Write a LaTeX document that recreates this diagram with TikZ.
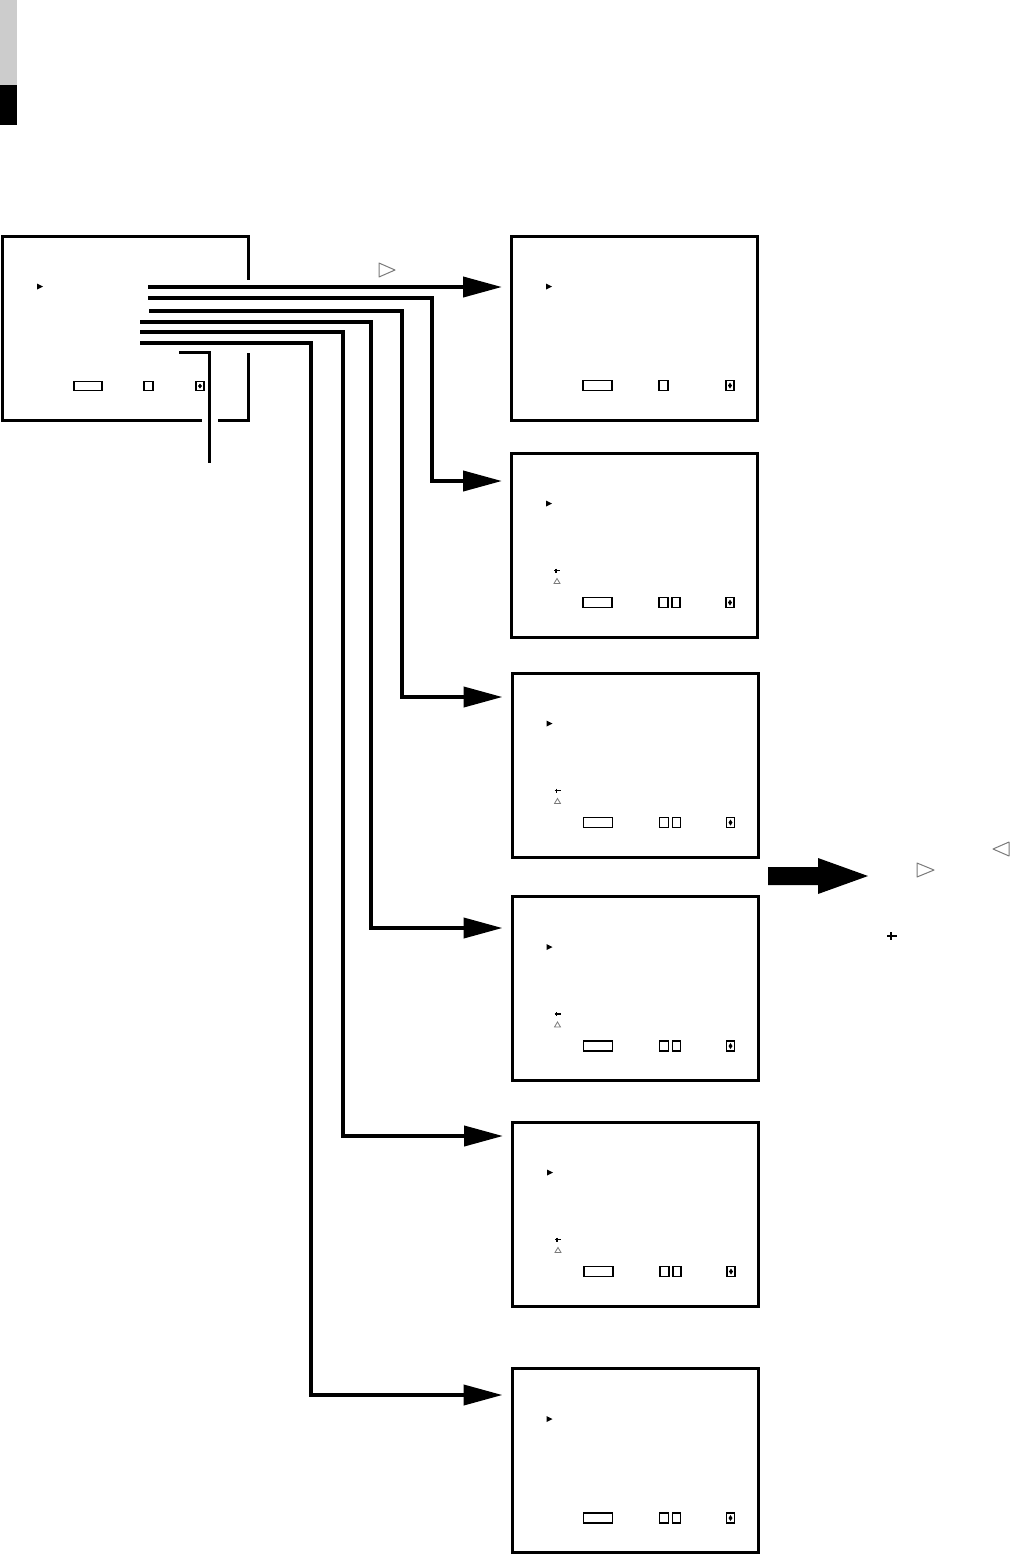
\documentclass[tikz,border=0pt]{standalone}
\usepackage{tikz}
\usetikzlibrary{arrows.meta,positioning,calc}
\definecolor{tabgray}{HTML}{CCCCCC}
\definecolor{symgray}{HTML}{7A7A7A}

\begin{document}
\begin{tikzpicture}[x=0.5pt,y=-0.5pt,
  screen/.style={draw, line width=1.5pt, minimum width=123pt, minimum height=92pt, inner sep=0pt},
  link/.style={line width=2pt, -{Triangle[length=19.5pt,width=10pt]}, shorten >=4pt},
  icon/.style={line width=0.6pt},
  btn/.style={draw=symgray, line width=0.5pt, line join=round}]
  \useasboundingbox (0,0) rectangle (1010,1555);

  % page tab
  \fill[tabgray] (0,0) rectangle (17,85);
  \fill[black] (0,85) rectangle (17,125);

  % screens
  \node[screen, draw=none, outer sep=0pt] (main) at (125.5,328) {};
  \node[screen] (scr1) at (634.5,328) {};
  \node[screen] (scr2) at (634.5,545) {};
  \node[screen] (scr3) at (635,765) {};
  \node[screen] (scr4) at (635,988.5) {};
  \node[screen] (scr5) at (635.5,1214) {};
  \node[screen] (scr6) at (635,1460.5) {};

  % main frame, open where the lines leave it
  \draw[line width=1.5pt] ($(main.north east)+(0,43.5)$) -- (main.north east) -- (main.north west)
    -- (main.south west) -- ($(main.south west)+(199.5,0)$);
  \draw[line width=1.5pt] ($(main.south east)+(-30.5,0)$) -- (main.south east) -- ($(main.south east)+(0,-67.5)$);

  % main screen items
  \begin{scope}[shift={(main.north west)}]
    \fill (34.5,47.5) -- (40.5,50.5) -- (34.5,53.5) -- cycle;
    \draw[icon] (71.5,145.5) rectangle (99.5,154.5);
    \draw[icon] (141.5,145.5) rectangle (150.5,154.5);
    \draw[icon] (193.5,145.5) rectangle (201.5,154.5);
    \fill (197.5,147.5) -- (199.5,150) -- (197.5,152.5) -- (195.5,150) -- cycle;
  \end{scope}

  % sub screen items
  \foreach \s/\nsq/\tack in {scr1/1/0,scr2/2/1,scr3/2/1,scr4/2/1,scr5/2/1,scr6/2/0}{
    \begin{scope}[shift={(\s.north west)}]
      \fill (36,49) -- (42,52) -- (36,55) -- cycle;
      \draw[icon] (73,146) rectangle (102,156);
      \draw[icon] (149,146) rectangle (158,156);
      \ifnum\nsq=2 \draw[icon] (162,146) rectangle (170,156); \fi
      \draw[icon] (216,146) rectangle (224,156);
      \fill (220,148) -- (222,151) -- (220,154) -- (218,151) -- cycle;
      \ifnum\tack=1
        \draw[line width=0.6pt] (44,119) -- (50,119) (46,117) -- (46,121);
        \draw[symgray, line width=0.4pt] (47,127) -- (50,132) -- (44,132) -- cycle;
      \fi
    \end{scope}
  }

  % line starts and bends
  \coordinate (s1) at (148,287);
  \coordinate (s2) at (148,298);
  \coordinate (s3) at (149,311);
  \coordinate (s4) at (140,322);
  \coordinate (s5) at (140,332);
  \coordinate (s6) at (140,343);
  \coordinate (b2) at (432,481);
  \coordinate (b3) at (402,697);
  \coordinate (b4) at (371,928);
  \coordinate (b5) at (343,1136);
  \coordinate (b6) at (311,1395);

  \draw[link] (s1) -- (s1 -| scr1.west);
  \draw[link] (s2) -| (b2) -- (b2 -| scr2.west);
  \draw[link] (s3) -| (b3) -- (b3 -| scr3.west);
  \draw[link] (s4) -| (b4) -- (b4 -| scr4.west);
  \draw[link] (s5) -| (b5) -- (b5 -| scr5.west);
  \draw[link] (s6) -| (b6) -- (b6 -| scr6.west);

  % leader
  \coordinate (lead) at (179,352);
  \coordinate (leadend) at (209,463);
  \draw[line width=1.5pt] (lead) -| (leadend);

  % button marks
  \draw[btn] (379,263) -- (395,270) -- (379,277) -- cycle;
  \draw[btn] (917,863) -- (934,870) -- (917,877) -- cycle;
  \draw[btn] (1009,842) -- (993,849) -- (1009,856) -- cycle;
  \draw[line width=0.8pt] (887,936) -- (897,936) (891,932) -- (891,940);

  % big arrow
  \fill (768,867) -- (818,867) -- (818,858) -- (868,876) -- (818,894) -- (818,885) -- (768,885) -- cycle;
\end{tikzpicture}
\end{document}
